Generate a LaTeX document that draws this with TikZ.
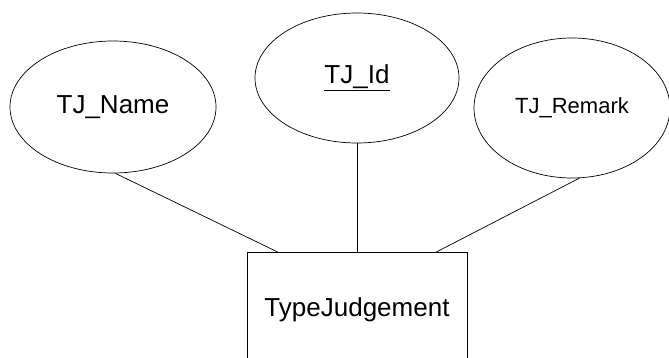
\documentclass[tikz,border=0pt]{standalone}
\usepackage{fontspec}
\setmainfont{Liberation Sans}
\usetikzlibrary{shapes.geometric}

\begin{document}
\begin{tikzpicture}[x=1pt,y=-1pt,
		attr/.style={draw,ellipse,line width=0.7pt,inner sep=0pt,font=\fontsize{26}{30}\selectfont},
		entity/.style={draw,rectangle,line width=0.7pt,minimum width=220pt,inner ysep=45pt,font=\fontsize{26}{30}\selectfont}]
			\useasboundingbox (0,0) rectangle (669,357);
			\clip (0,0) rectangle (669,357);
			\node[attr,minimum width=206pt,minimum height=132pt] (name) at (113,107) {TJ\_Name};
			\node[attr,minimum width=204pt,minimum height=130pt] (id) at (357,78) {\underline{TJ\_Id}};
			\node[attr,minimum width=196pt,minimum height=140pt,font=\fontsize{22}{26}\selectfont] (remark) at (572,108) {TJ\_Remark};
			\node[entity,anchor=north] (tj) at (357,252) {TypeJudgement};
			\path[line width=0.7pt]
			(name.-88) edge ([xshift=31pt]tj.north west)
			(id.south) edge (tj.north)
			(remark.-84) edge ([xshift=-31pt]tj.north east)
			;
		\end{tikzpicture}
\end{document}
